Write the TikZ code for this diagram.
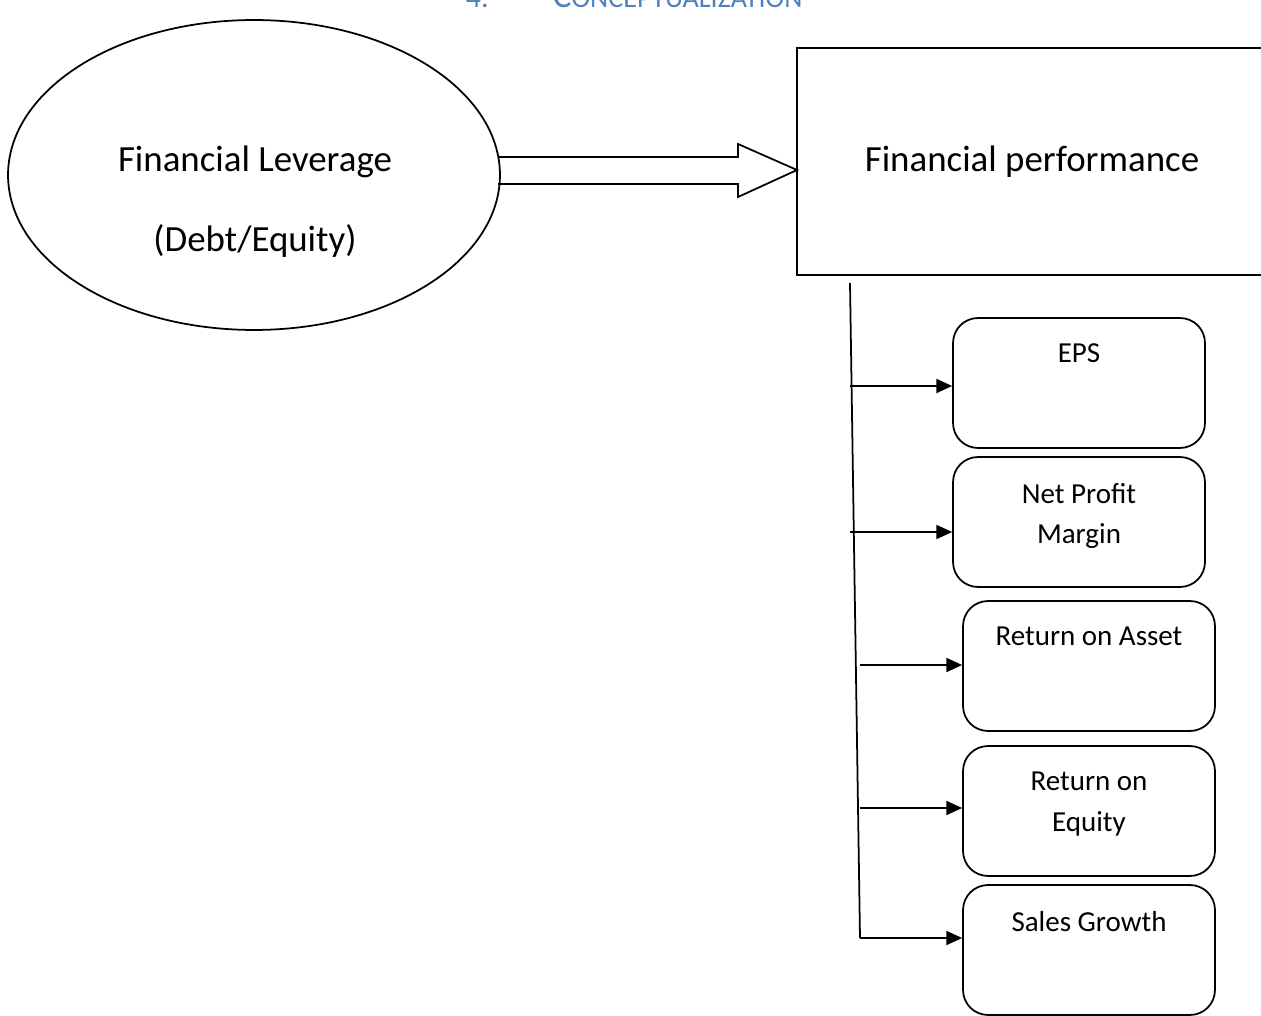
\documentclass[tikz,border=0pt]{standalone}
\usepackage{fontspec}
\setmainfont{Carlito}
\usetikzlibrary{arrows.meta,shapes.geometric,positioning}
\definecolor{headblue}{RGB}{79,129,189}

\begin{document}
\begin{tikzpicture}[x=0.02cm,y=-0.02cm,line width=1pt,>={Triangle[length=9pt,width=8pt]},
    kpi/.style={draw,rounded corners=0.5cm,minimum width=5.04cm,minimum height=2.6cm},
    kpitext/.style={font=\fontsize{16.5}{23}\selectfont,align=center,anchor=north,inner sep=0pt},
    bigtext/.style={font=\fontsize{21}{25}\selectfont}]
    \useasboundingbox (0,0) rectangle (1261,1016);
    % heading, cut off at the top of the page
    \node[headblue,anchor=base west,inner sep=0pt] (num) at (465,8) {\fontsize{17}{20}\selectfont 4.};
    \node[headblue,anchor=base west,inner sep=0pt] (head) at (552,8) {\fontsize{20}{24}\selectfont C\fontsize{16}{20}\selectfont ONCEPTUALIZATION};
    %
    \node[draw,ellipse,minimum width=9.84cm,minimum height=6.2cm] (lev) at (254,175) {};
    \node[bigtext] (levname) at (255,162) {Financial Leverage};
    \node[bigtext] (levratio) at (255,241) {(Debt/Equity)};
    \node[draw,bigtext,minimum width=9.4cm,minimum height=4.54cm] (perf) at (1032,161.5) {Financial performance};
    \coordinate (tip) at (797,170);
    \draw (498,157) -- (738,157) -- (738,144) -- (tip) -- (738,197) -- (738,184) -- (498,184);
    %
    \node[kpi] (eps) at (1079,383) {};
    \node[kpi] (npm) at (1079,522) {};
    \node[kpi] (roa) at (1089,666) {};
    \node[kpi] (roe) at (1089,811) {};
    \node[kpi] (sg) at (1089,950) {};
    \node[kpitext] (epstxt) at ([yshift=-0.52cm]eps.north) {EPS};
    \node[kpitext] (npmtxt) at ([yshift=-0.52cm]npm.north) {Net Profit\\Margin};
    \node[kpitext] (roatxt) at ([yshift=-0.52cm]roa.north) {Return on Asset};
    \node[kpitext] (roetxt) at ([yshift=-0.52cm]roe.north) {Return on\\Equity};
    \node[kpitext] (sgtxt) at ([yshift=-0.52cm]sg.north) {Sales Growth};
    %
    \coordinate (t0) at (850,283);
    \coordinate (t1) at (860,938);
    \coordinate (a1) at (850,386);
    \coordinate (a2) at (850,532);
    \coordinate (a3) at (860,665);
    \coordinate (a4) at (860,808);
    \draw (t0) -- (t1);
    \draw[->] (a1) -- (a1 -| eps.west);
    \draw[->] (a2) -- (a2 -| npm.west);
    \draw[->] (a3) -- (a3 -| roa.west);
    \draw[->] (a4) -- (a4 -| roe.west);
    \draw[->] (t1) -- (t1 -| sg.west);
\end{tikzpicture}
\end{document}
